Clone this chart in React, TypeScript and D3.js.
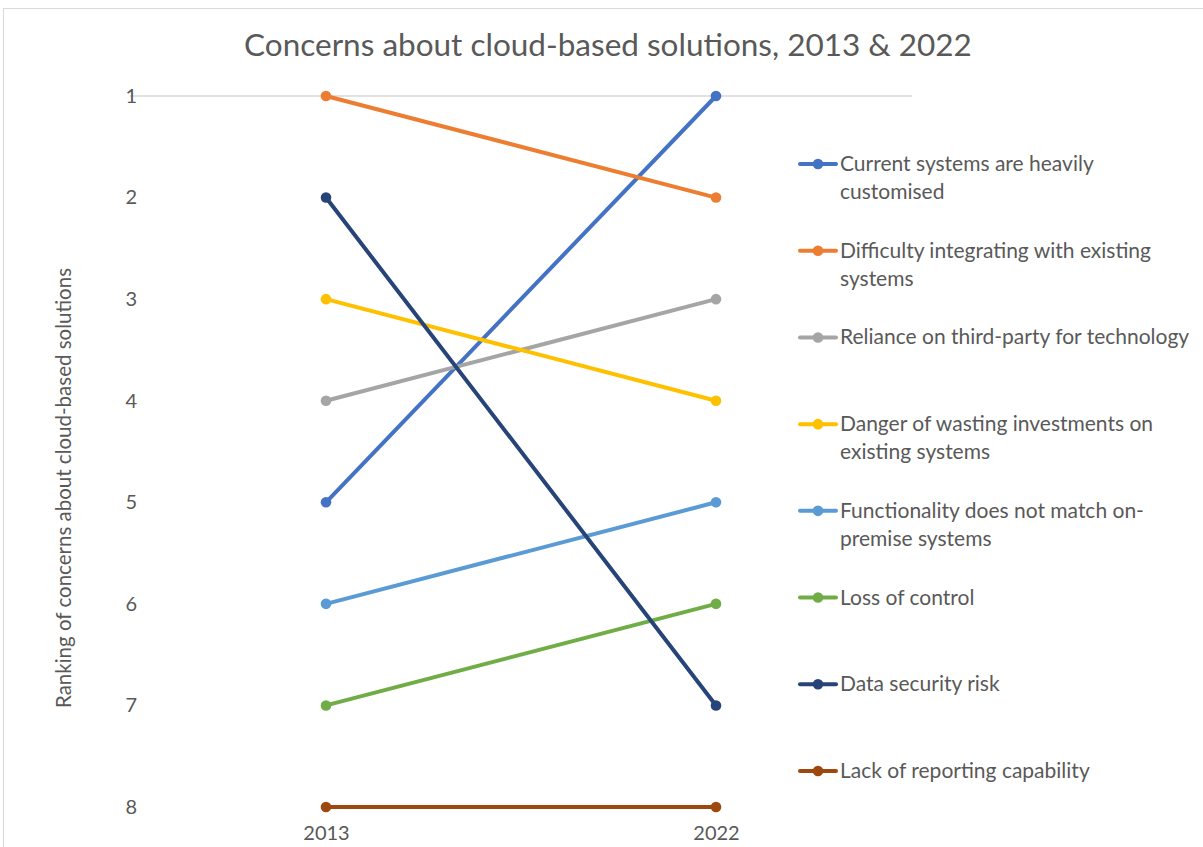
import { useEffect, useRef } from 'react'
import * as d3 from 'd3'

const years = ['2013', '2022']
const concerns = [
  'Current systems are heavily customised',
  'Difficulty integrating with existing systems',
  'Reliance on third-party for technology',
  'Danger of wasting investments on existing systems',
  'Functionality does not match on-premise systems',
  'Loss of control',
  'Data security risk',
  'Lack of reporting capability',
]
const legendLines = [
  ['Current systems are heavily', 'customised'],
  ['Difficulty integrating with existing', 'systems'],
  ['Reliance on third-party for technology'],
  ['Danger of wasting investments on', 'existing systems'],
  ['Functionality does not match on-', 'premise systems'],
  ['Loss of control'],
  ['Data security risk'],
  ['Lack of reporting capability'],
]
const rank2013 = [5, 1, 4, 3, 6, 7, 2, 8]
const rank2022 = [1, 2, 3, 4, 5, 6, 7, 8]
const colors = ['#4472C4', '#ED7D31', '#A5A5A5', '#FFC000', '#5B9BD5', '#70AD47', '#264478', '#9E480E']
const yTicks = [1, 2, 3, 4, 5, 6, 7, 8]

const W = 1203
const H = 847
const FONT = 'Lato, "Open Sans", sans-serif'
const TXT = '#595959'

const App = () => {
  const svgRef = useRef<SVGSVGElement>(null)

  useEffect(() => {
    const svg = d3.select(svgRef.current)
    svg.selectAll('*').remove()

    // chart frame
    svg
      .append('rect')
      .attr('x', 3.5)
      .attr('y', 8.5)
      .attr('width', W + 10)
      .attr('height', H + 10)
      .attr('fill', '#fff')
      .attr('stroke', '#d9d9d9')

    const x = d3.scalePoint<string>().domain(years).range([326, 716])
    const y = d3.scaleLinear().domain([1, 8]).range([96, 807])

    // title
    svg
      .append('text')
      .attr('x', 608)
      .attr('y', 56)
      .attr('text-anchor', 'middle')
      .style('font-family', FONT)
      .style('font-size', '31.5px')
      .style('fill', TXT)
      .text('Concerns about cloud-based solutions, 2013 & 2022')

    // top gridline
    svg
      .append('line')
      .attr('x1', 130)
      .attr('x2', 912)
      .attr('y1', y(1))
      .attr('y2', y(1))
      .attr('stroke', '#d9d9d9')
      .attr('stroke-width', 1.5)

    // y axis labels
    const yAxis = d3.axisLeft(y).tickValues(yTicks).tickFormat(d3.format('d')).tickSize(0).tickPadding(0)
    svg
      .append('g')
      .attr('transform', 'translate(137,0)')
      .call(yAxis)
      .call((g) => g.select('.domain').remove())
      .call((g) =>
        g
          .selectAll('.tick text')
          .style('font-family', FONT)
          .style('font-size', '20px')
          .attr('fill', TXT)
      )

    // x axis labels
    const xAxis = d3.axisBottom(x).tickSize(0).tickPadding(0)
    svg
      .append('g')
      .attr('transform', 'translate(0,826)')
      .call(xAxis)
      .call((g) => g.select('.domain').remove())
      .call((g) =>
        g
          .selectAll('.tick text')
          .style('font-family', FONT)
          .style('font-size', '20px')
          .attr('fill', TXT)
      )

    // y axis title
    svg
      .append('text')
      .attr('transform', 'translate(71,488) rotate(-90)')
      .attr('text-anchor', 'middle')
      .style('font-family', FONT)
      .style('font-size', '20.5px')
      .style('fill', TXT)
      .text('Ranking of concerns about cloud-based solutions')

    // lines + markers
    const line = d3
      .line<[string, number]>()
      .x((d) => x(d[0]) as number)
      .y((d) => y(d[1]))

    concerns.forEach((name, i) => {
      const pts: [string, number][] = [
        [years[0], rank2013[i]],
        [years[1], rank2022[i]],
      ]
      const g = svg.append('g').attr('class', 'series')
      g.append('path')
        .attr('d', line(pts))
        .attr('fill', 'none')
        .attr('stroke', colors[i])
        .attr('stroke-width', 4)
        .attr('stroke-linecap', 'round')
      g.selectAll('circle')
        .data(pts)
        .join('circle')
        .attr('cx', (d) => x(d[0]) as number)
        .attr('cy', (d) => y(d[1]))
        .attr('r', 5.3)
        .attr('fill', colors[i])
    })

    // legend
    const legendY = d3.scaleLinear().domain([0, 7]).range([164, 771])
    concerns.forEach((name, i) => {
      const ly = legendY(i)
      const g = svg.append('g').attr('class', 'legend')
      g.append('line')
        .attr('x1', 800)
        .attr('x2', 836)
        .attr('y1', ly)
        .attr('y2', ly)
        .attr('stroke', colors[i])
        .attr('stroke-width', 4)
        .attr('stroke-linecap', 'round')
      g.append('circle').attr('cx', 818).attr('cy', ly).attr('r', 5.3).attr('fill', colors[i])
      const t = g
        .append('text')
        .attr('x', 840)
        .attr('y', ly + 7)
        .style('font-family', FONT)
        .style('font-size', '21px')
        .style('fill', TXT)
      legendLines[i].forEach((ln, j) => {
        t.append('tspan')
          .attr('x', 840)
          .attr('dy', j === 0 ? 0 : 28)
          .text(ln)
      })
    })
  }, [])

  return (
    <svg
      ref={svgRef}
      width={W}
      height={H}
      style={{ position: 'absolute', left: 0, top: 0, background: '#fff' }}
    />
  )
}

export default App
